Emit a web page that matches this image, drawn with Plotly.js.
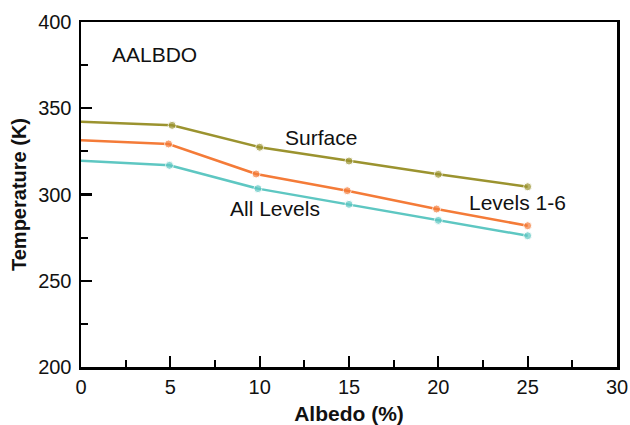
<!DOCTYPE html>
<html>
<head>
<meta charset="utf-8">
<script src="https://cdn.plot.ly/plotly-3.0.1.min.js"></script>
<style>
  html, body { margin: 0; padding: 0; background: #fff; }
  #chart { width: 630px; height: 425px; }
</style>
</head>
<body>
<div id="chart"></div>
<script>
// Albedo (%) values for each series
const surfaceX = [0, 5.1, 10, 15, 20, 25];
const surfaceY = [342.2, 340.1, 327.4, 319.4, 311.7, 304.5];

const levels16X = [0, 4.9, 9.8, 14.9, 19.9, 25];
const levels16Y = [331.4, 329.3, 311.9, 302.2, 291.6, 281.9];

const allLevelsX = [0, 4.95, 9.9, 15, 20, 25];
const allLevelsY = [319.6, 316.9, 303.4, 294.3, 285.0, 276.1];

const seriesNames = ["Surface", "Levels 1-6", "All Levels"];
const seriesColors = ["#9b932f", "#f47b38", "#5ec7c2"];

const markerSizes = [0, 8, 8, 8, 8, 8];

const FONT = "Liberation Sans, Arial, Helvetica, sans-serif";

function mk(x, y, i) {
  return {
    x: x, y: y, name: seriesNames[i], type: "scatter", mode: "lines+markers",
    line: { color: seriesColors[i], width: 2.5 },
    marker: { color: seriesColors[i], size: markerSizes },
    cliponaxis: false, showlegend: false
  };
}

const data = [
  mk(surfaceX, surfaceY, 0),
  mk(levels16X, levels16Y, 1),
  mk(allLevelsX, allLevelsY, 2)
];

const layout = {
  width: 630, height: 425,
  margin: { l: 81, r: 13, t: 22, b: 58 },
  paper_bgcolor: "#fff", plot_bgcolor: "#fff",
  font: { family: FONT, size: 21, color: "#111" },
  xaxis: {
    range: [0, 30], dtick: 5, tick0: 0,
    showgrid: false, zeroline: false,
    showline: true, linecolor: "#000", linewidth: 2.5, mirror: true,
    ticks: "inside", ticklen: 11, tickwidth: 2.2, tickcolor: "#000",
    minor: { dtick: 2.5, ticks: "inside", ticklen: 7, tickwidth: 2.2, tickcolor: "#000", showgrid: false },
    tickfont: { family: FONT, size: 20, color: "#111" },
    title: { text: "<b>Albedo (%)</b>", font: { family: FONT, size: 21, color: "#111" }, standoff: 11 },
    fixedrange: true
  },
  yaxis: {
    range: [200, 400], dtick: 50, tick0: 200,
    showgrid: false, zeroline: false,
    showline: true, linecolor: "#000", linewidth: 2.5, mirror: true,
    ticks: "inside", ticklen: 11, tickwidth: 2.2, tickcolor: "#000",
    minor: { dtick: 25, ticks: "inside", ticklen: 7, tickwidth: 2.2, tickcolor: "#000", showgrid: false },
    tickfont: { family: FONT, size: 20, color: "#111" },
    ticklabelstandoff: 3,
    title: { text: "<b>Temperature (K)</b>", font: { family: FONT, size: 20, color: "#111" }, standoff: 6 },
    fixedrange: true
  },
  annotations: [
    { x: 4.09, y: 380.9, text: "AALBDO", showarrow: false, xanchor: "center", yanchor: "middle" },
    { x: 13.43, y: 332.8, text: "Surface", showarrow: false, xanchor: "center", yanchor: "middle" },
    { x: 10.86, y: 291.6, text: "All Levels", showarrow: false, xanchor: "center", yanchor: "middle" },
    { x: 24.45, y: 295.4, text: "Levels 1-6", showarrow: false, xanchor: "center", yanchor: "middle" }
  ]
};

Plotly.newPlot("chart", data, layout, { displayModeBar: false, staticPlot: true });
</script>
</body>
</html>
